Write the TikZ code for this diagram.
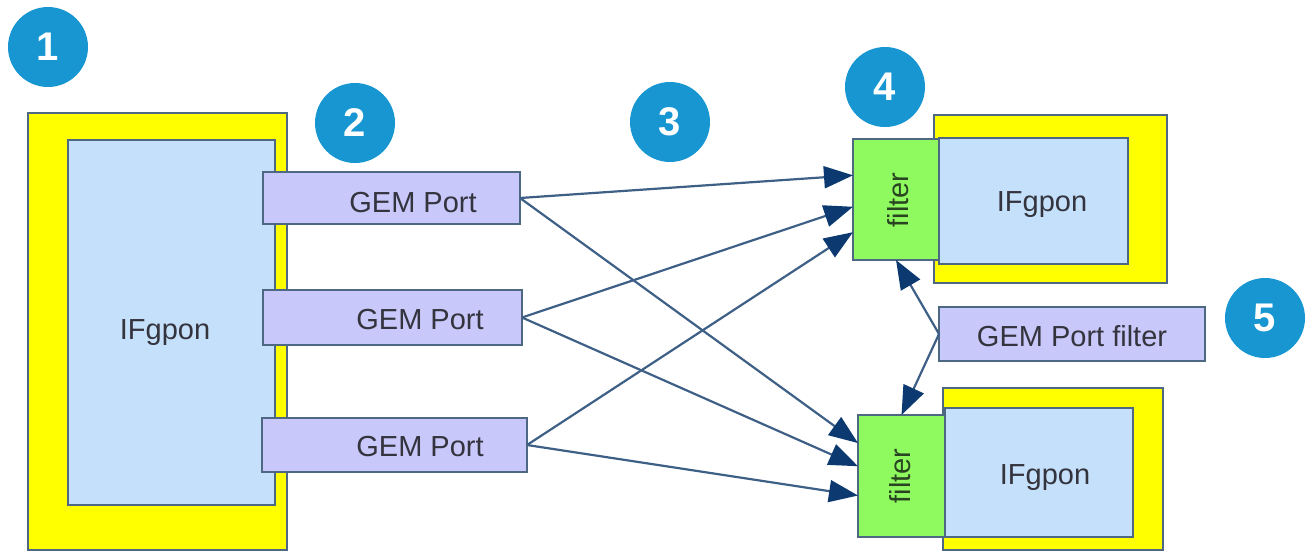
\documentclass[tikz,border=0pt]{standalone}
\usepackage{fontspec}
\setmainfont{Liberation Sans}
\usetikzlibrary{arrows.meta,calc}
\definecolor{ylw}{RGB}{255,255,0}
\definecolor{lblue}{RGB}{197,224,250}
\definecolor{lav}{RGB}{200,200,250}
\definecolor{grn}{RGB}{143,250,95}
\definecolor{bordc}{RGB}{78,104,132}
\definecolor{linec}{RGB}{62,95,134}
\definecolor{tipc}{RGB}{12,58,112}
\definecolor{txtc}{RGB}{52,52,62}
\definecolor{gtxt}{RGB}{40,68,32}
\definecolor{circ}{RGB}{23,150,210}
\tikzset{
  boxbase/.style={draw=bordc, line width=2pt, inner sep=0pt, outer sep=0pt},
  ybox/.style={boxbase, fill=ylw},
  bbox/.style={boxbase, fill=lblue},
  pbox/.style={boxbase, fill=lav},
  fbox/.style={boxbase, fill=grn},
  lbl/.style={text=txtc, font=\fontsize{29}{34}\selectfont, inner sep=0pt},
  flbl/.style={text=gtxt, font=\fontsize{29}{34}\selectfont, inner sep=0pt, rotate=90},
  numc/.style={circle, fill=circ, minimum size=80pt, inner sep=0pt, text=white, font=\fontsize{40}{46}\selectfont\bfseries},
  conn/.style={draw=linec, line width=2.2pt, -{Triangle[length=29pt,width=22pt,color=tipc,fill=tipc]}}
}
\begin{document}
\begin{tikzpicture}[x=1pt,y=-1pt]
\useasboundingbox (0,0) rectangle (1311,552);
% left interface
\node[ybox, minimum width=259pt, minimum height=437pt] (y1) at (157.5,331.5) {};
\node[bbox, minimum width=207pt, minimum height=365pt] (b1) at (171.5,322.5) {};
\node[lbl] (t1) at (165,333) {IFgpon};
% GEM ports
\node[pbox, minimum width=257pt, minimum height=52pt] (g1) at (391.5,198) {};
\node[pbox, minimum width=259pt, minimum height=55pt] (g2) at (392.5,317.5) {};
\node[pbox, minimum width=265pt, minimum height=54pt] (g3) at (394.5,445) {};
\node[lbl] (tg1) at (413,203) {GEM Port};
\node[lbl] (tg2) at (420,320) {GEM Port};
\node[lbl] (tg3) at (420,447) {GEM Port};
% top right interface
\node[ybox, minimum width=233pt, minimum height=168pt] (y2) at (1050.5,199) {};
\node[bbox, minimum width=189pt, minimum height=126pt] (b2) at (1033.5,201) {};
\node[fbox, minimum width=86pt, minimum height=121pt] (f1) at (896,199.5) {};
\node[lbl] (t2) at (1042,205) {IFgpon};
\node[flbl] (tf1) at (898,200) {filter};
% bottom right interface
\node[ybox, minimum width=220pt, minimum height=162pt] (y3) at (1053,469) {};
\node[bbox, minimum width=188pt, minimum height=129pt] (b3) at (1039,472.5) {};
\node[fbox, minimum width=87pt, minimum height=122pt] (f2) at (901.5,476) {};
\node[lbl] (t3) at (1045,478) {IFgpon};
\node[flbl] (tf2) at (900,476) {filter};
% GEM port filter
\node[pbox, minimum width=266pt, minimum height=54pt] (gpf) at (1072,334) {};
\node[lbl] (tgpf) at (1072,336) {GEM Port filter};
% connectors
\draw[conn] (g1.east) -- ($(f1.north west)!0.30!(f1.south west)$);
\draw[conn] (g2.east) -- ($(f1.north west)!0.56!(f1.south west)$);
\draw[conn] (g3.east) -- ($(f1.north west)!0.77!(f1.south west)$);
\draw[conn] (g1.east) -- ($(f2.north west)!0.23!(f2.south west)$);
\draw[conn] (g2.east) -- ($(f2.north west)!0.42!(f2.south west)$);
\draw[conn] (g3.east) -- ($(f2.north west)!0.66!(f2.south west)$);
\draw[conn] (gpf.west) -- (f1.south);
\draw[conn] (gpf.west) -- (f2.north);
% numbered circles
\node[numc] (c1) at (48,47) {1};
\node[numc] (c2) at (355,123) {2};
\node[numc] (c3) at (670,122) {3};
\node[numc] (c4) at (885,87) {4};
\node[numc] (c5) at (1265,318) {5};
\end{tikzpicture}
\end{document}
